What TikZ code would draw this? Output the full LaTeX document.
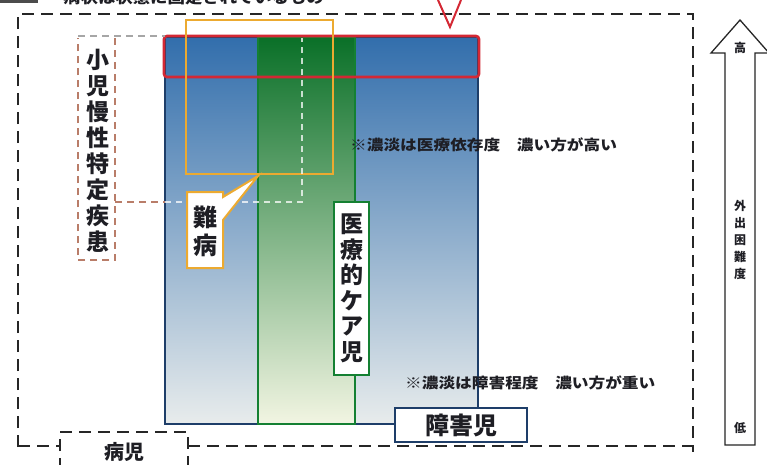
\documentclass[tikz,border=0pt]{standalone}
\usepackage{fontspec}
\newfontfamily\jp{Noto Sans CJK JP}
\definecolor{blueA}{RGB}{50,110,172}
\definecolor{blueB}{RGB}{135,172,205}
\definecolor{blueC}{RGB}{232,236,236}
\definecolor{blueline}{RGB}{30,62,105}
\definecolor{greenA}{RGB}{10,112,40}
\definecolor{greenB}{RGB}{145,192,95}
\definecolor{greenC}{RGB}{242,245,226}
\definecolor{greenline}{RGB}{20,128,50}
\definecolor{redline}{RGB}{212,40,52}
\definecolor{orangeline}{RGB}{236,170,48}
\definecolor{brownd}{RGB}{185,125,105}
\definecolor{txt}{RGB}{30,30,36}
\tikzset{
  lbl/.style={font=\jp\bfseries, inner sep=0pt, align=center, text=txt},
  note/.style={font=\jp\bfseries\fontsize{14.5}{14.5}\selectfont, inner sep=0pt, text=txt},
  outerdash/.style={line width=2.6pt, dash pattern=on 12pt off 7pt, black!85},
  browndash/.style={line width=1.6pt, dash pattern=on 7pt off 5pt, brownd},
  whitedash/.style={line width=1.4pt, dash pattern=on 6pt off 5pt, white, opacity=0.75}
}
\begin{document}
\begin{tikzpicture}[x=1pt,y=-1pt]
\useasboundingbox (0,0) rectangle (767,464);
\fill[white] (0,0) rectangle (767,464);
% top cut-off heading
\fill[black!70] (0,0) rectangle (38,3);
\node[note, anchor=south west] (head) at (63,5) {\scalebox{1.2}[1]{病状は状態に固定されているもの}};
% outer dashed frame
\draw[outerdash] (18,447) -- (18,14) -- (693,14) -- (693,452);
\draw[outerdash] (18,446) -- (60,446);
\draw[outerdash] (188,446) -- (693,446);
% 病児 box
\draw[outerdash, line width=2pt] (60,470) -- (60,432) -- (188,432) -- (188,470);
\node[lbl, font=\jp\bfseries\fontsize{20}{20}\selectfont] (byoji) at (124,452) {病児};
% red V
\draw[redline, line width=2pt] (438,0) -- (450,27) -- (461,0);
% blue rect
\shade[top color=blueA, middle color=blueB, bottom color=blueC] (165,37) rectangle (478,424);
\draw[blueline, line width=1.5pt] (165,37) rectangle (478,424);
% green column
\shade[top color=greenA, middle color=greenB, bottom color=greenC] (258,37) rectangle (355,424);
\draw[greenline, line width=1.6pt] (258,37) rectangle (355,424);
% red band
\draw[redline, line width=2.6pt, rounded corners=3pt] (164,36) rectangle (479,77);
% orange (難病) rect
\draw[orangeline, line width=2pt] (186,20) rectangle (333,174);
% 小児慢性特定疾患 region
\draw[browndash, black!35] (78,36) -- (165,36);
\draw[browndash] (115,202) -- (165,202);
\draw[whitedash] (165,202) -- (302,202) -- (302,38);
\draw[browndash] (115,38) -- (115,260) -- (78,260) -- (78,38);
\node[lbl, font=\jp\bfseries\fontsize{23}{26}\selectfont] (shoni) at (98,151) {小\\児\\慢\\性\\特\\定\\疾\\患};
% 難病 callout
\draw[orangeline, line width=2pt, fill=white, line join=miter]
  (187,192) -- (223,192) -- (223,197) -- (258,176) -- (223,220) -- (223,268) -- (187,268) -- cycle;
\node[lbl, font=\jp\bfseries\fontsize{24}{28}\selectfont] (nanbyo) at (205,231) {難\\病};
% 医療的ケア児
\node[draw=greenline, line width=2pt, fill=white, minimum width=35pt, minimum height=173pt, inner sep=0pt] (iryobox) at (351.5,288.5) {};
\node[lbl, font=\jp\bfseries\fontsize{23}{25.5}\selectfont] (iryo) at (iryobox.center) {医\\療\\的\\ケ\\ア\\児};
% 障害児
\node[draw=blueline, line width=2pt, fill=white, minimum width=132pt, minimum height=34pt, inner sep=0pt,
      font=\jp\bfseries\fontsize{24}{24}\selectfont, text=txt] (shogai) at (461,425) {障害児};
% notes
\node[note, anchor=west] (note1) at (350,145) {\scalebox{1.15}[1]{※濃淡は医療依存度　濃い方が高い}};
\node[note, anchor=west] (note2) at (405,383) {\scalebox{1.15}[1]{※濃淡は障害程度　濃い方が重い}};
% right arrow
\draw[black!85, line width=1.3pt, line join=miter] (725,445) -- (725,53) -- (711,53) -- (740,20) -- (769,53) -- (755,53) -- (755,445) -- cycle;
\node[lbl, font=\jp\bfseries\fontsize{12}{12}\selectfont] (hi) at (740,48) {高};
\node[lbl, font=\jp\bfseries\fontsize{12}{17}\selectfont] (gaishutsu) at (740,240) {外\\出\\困\\難\\度};
\node[lbl, font=\jp\bfseries\fontsize{12}{12}\selectfont] (lo) at (740,428) {低};
\end{tikzpicture}
\end{document}
